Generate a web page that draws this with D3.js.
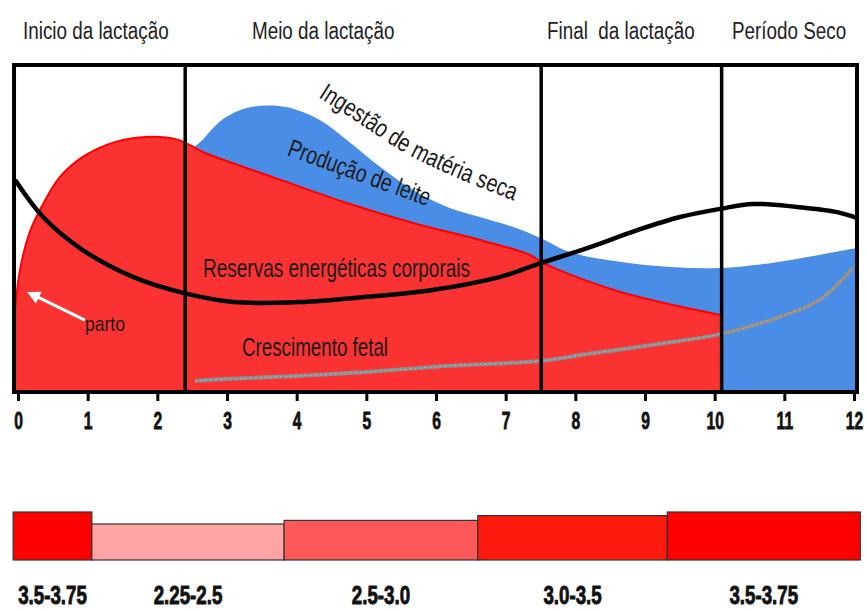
<!DOCTYPE html>
<html>
<head>
<meta charset="utf-8">
<script src="https://cdnjs.cloudflare.com/ajax/libs/d3/7.8.5/d3.min.js"></script>
<style>
  body { margin: 0; background: #fff; }
  text { font-family: "Liberation Sans", Arial, sans-serif; }
</style>
</head>
<body>
<div id="chart-area"></div>
<script>
// phases of the lactation cycle (months)
var phases = ["Inicio da lactação", "Meio da lactação", "Final  da lactação", "Período Seco"];
var phaseBounds = [2.4, 7.51, 10.1];
var months = d3.range(0, 13);

// Reservas energéticas corporais (red)
var redMonth = [-0.06, 0.03, 0.17, 0.36, 0.6, 0.93, 1.4, 1.85, 2.3, 2.69, 3.7, 4.72, 5.67, 6.63, 7.35, 7.54, 8.6, 10.1];
var redValue = [21.0, 37.5, 49.0, 57.5, 65.7, 71.9, 76.5, 78.0, 77.1, 73.1, 65.4, 57.8, 51.7, 46.5, 41.9, 39.4, 30.9, 23.5];

// Produção de leite (blue)
var blueMonth = [2.5, 2.62, 2.78, 2.98, 3.29, 3.57, 3.9, 4.33, 4.72, 5.2, 5.67, 6.16, 6.63, 7.1, 7.5, 7.92, 8.64, 9.36, 10.08, 10.8, 11.5, 12.04];
var blueValue = [74.5, 76.5, 80.3, 84.0, 86.9, 87.6, 86.9, 83.2, 77.1, 68.8, 61.8, 56.6, 53.5, 50.5, 47.1, 42.8, 39.8, 38.2, 37.9, 39.4, 41.9, 44.0];

// Ingestão de matéria seca (black line)
var intakeMonth = [-0.04, 0.36, 0.93, 1.65, 2.37, 3.1, 4.05, 5, 5.95, 6.92, 7.5, 8.17, 8.89, 9.5, 10.08, 10.55, 11.18, 11.76, 12.04];
var intakeValue = [64.8, 53.5, 43.4, 35.2, 30.3, 27.5, 27.5, 29.1, 31.2, 35.2, 39.4, 44.0, 49.5, 53.5, 56.0, 57.5, 56.6, 55.0, 53.2];

// Crescimento fetal (grey line)
var fetalMonth = [2.54, 3, 4, 5, 6.2, 7.5, 8.17, 9.1, 10.08, 10.8, 11.5, 11.98];
var fetalValue = [3.4, 4.0, 4.9, 6.1, 8.0, 9.5, 11.6, 14.4, 17.7, 22.0, 28.1, 37.9];

// body condition score strip
var scoreLabels = ["3.5-3.75", "2.25-2.5", "2.5-3.0", "3.0-3.5", "3.5-3.75"];
var scoreLow = [3.5, 2.25, 2.5, 3.0, 3.5];
var scoreHigh = [3.75, 2.5, 3.0, 3.5, 3.75];
var scoreStart = [-0.07, 1.06, 3.82, 6.6, 9.32];
var scoreEnd = [1.06, 3.82, 6.6, 9.32, 12.09];
var scoreColors = ["#ff0000", "#ffa4a4", "#ff5858", "#ff1a0e", "#ff0000"];

var width = 866, height = 610;

var svg = d3.select("#chart-area").append("svg")
    .attr("width", width)
    .attr("height", height);

var x = d3.scaleLinear().domain([0, 12]).range([18, 854]);
var y = d3.scaleLinear().domain([0, 100]).range([392, 65]);
var yScore = d3.scaleLinear().domain([-1.375, 3.625]).range([560, 512]);

var zip = (a, b) => a.map((d, i) => [d, b[i]]);
var curve = d3.curveCatmullRom.alpha(0.5);

var area = d3.area()
    .x((d) => x(d[0]))
    .y0(y(0))
    .y1((d) => y(d[1]))
    .curve(curve);

var line = d3.line()
    .x((d) => x(d[0]))
    .y((d) => y(d[1]))
    .curve(curve);

// areas
svg.append("path")
    .attr("d", area(zip(blueMonth, blueValue)))
    .attr("fill", "#4a8de6");

svg.append("path")
    .attr("d", area(zip(redMonth, redValue)))
    .attr("fill", "#fb3232");

svg.append("path")
    .attr("d", line(zip(redMonth, redValue)))
    .attr("fill", "none")
    .attr("stroke", "#ff0000")
    .attr("stroke-width", 2);

// fetal growth line
svg.append("path")
    .attr("d", line(zip(fetalMonth, fetalValue)))
    .attr("fill", "none")
    .attr("stroke", "#8e8e8e")
    .attr("stroke-width", 4);

svg.append("path")
    .attr("d", line(zip(fetalMonth, fetalValue)))
    .attr("fill", "none")
    .attr("stroke", "#b4b4b4")
    .attr("stroke-width", 1)
    .attr("stroke-dasharray", "2,3");

// dry matter intake line
svg.append("path")
    .attr("d", line(zip(intakeMonth, intakeValue)))
    .attr("fill", "none")
    .attr("stroke", "#000")
    .attr("stroke-width", 4.5);

// phase dividers + frame
svg.selectAll(".divider").data(phaseBounds).enter().append("line")
    .attr("class", "divider")
    .attr("x1", (d) => x(d)).attr("x2", (d) => x(d))
    .attr("y1", y(100)).attr("y2", y(0))
    .attr("stroke", "#000")
    .attr("stroke-width", 3.5);

svg.append("rect")
    .attr("x", x(-0.057))
    .attr("y", y(100))
    .attr("width", x(12.043) - x(-0.057))
    .attr("height", y(0) - y(100))
    .attr("fill", "none")
    .attr("stroke", "#000")
    .attr("stroke-width", 4);

// axis
var xAxisCall = d3.axisBottom(x)
    .tickValues(months)
    .tickSize(9)
    .tickSizeOuter(0)
    .tickPadding(12);

var xAxisGroup = svg.append("g")
    .attr("transform", "translate(0," + y(0) + ")")
    .call(xAxisCall);

xAxisGroup.select(".domain").remove();
xAxisGroup.selectAll("line").attr("stroke", "#000").attr("stroke-width", 3);
xAxisGroup.selectAll("text")
    .attr("font-family", "Liberation Sans")
    .attr("font-size", 23)
    .attr("font-weight", "bold")
    .attr("fill", "#111")
    .attr("stroke", "#111")
    .attr("stroke-width", 0.8)
    .attr("transform", "scale(0.68,1)");

// phase titles (narrow, like Arial Narrow)
var phaseX = [23, 252, 547, 732];
svg.selectAll(".phase").data(phases).enter().append("text")
    .attr("class", "phase")
    .attr("transform", (d, i) => "translate(" + phaseX[i] + ",39) scale(0.82,1)")
    .attr("font-size", 23)
    .attr("fill", "#222")
    .style("white-space", "pre")
    .text((d) => d);

// labels inside the chart
svg.append("text")
    .attr("transform", "translate(" + x(3.85) + "," + y(72.5) + ") rotate(20)")
    .attr("font-size", 25)
    .attr("fill", "#1a1a1a")
    .attr("textLength", 150)
    .attr("lengthAdjust", "spacingAndGlyphs")
    .text("Produção de leite");

var guideMonth = [4.31, 4.91, 5.48, 6.2, 7.28];
var guideValue = [90.2, 82.0, 74.0, 66.4, 57.2];
svg.append("path")
    .attr("id", "intake-guide")
    .attr("d", line(zip(guideMonth, guideValue)))
    .attr("fill", "none");

svg.append("text")
    .attr("font-size", 25)
    .attr("fill", "#1a1a1a")
    .attr("textLength", 222)
    .attr("lengthAdjust", "spacingAndGlyphs")
    .append("textPath")
    .attr("href", "#intake-guide")
    .text("Ingestão de matéria seca");

svg.append("text")
    .attr("x", 203)
    .attr("y", 277)
    .attr("font-size", 26)
    .attr("fill", "#1a1a1a")
    .attr("textLength", 267)
    .attr("lengthAdjust", "spacingAndGlyphs")
    .text("Reservas energéticas corporais");

svg.append("text")
    .attr("x", 242)
    .attr("y", 356)
    .attr("font-size", 26)
    .attr("fill", "#1a1a1a")
    .attr("textLength", 146)
    .attr("lengthAdjust", "spacingAndGlyphs")
    .text("Crescimento fetal");

svg.append("text")
    .attr("x", 85)
    .attr("y", 331)
    .attr("font-size", 21)
    .attr("fill", "#1a1a1a")
    .attr("textLength", 40)
    .attr("lengthAdjust", "spacingAndGlyphs")
    .text("parto");

// parto arrow
var tail = [x(0.96), y(22)], tip = [x(0.13), y(30.6)];
var ang = Math.atan2(tip[1] - tail[1], tip[0] - tail[0]);
svg.append("line")
    .attr("x1", tail[0]).attr("y1", tail[1])
    .attr("x2", tip[0] - 8 * Math.cos(ang)).attr("y2", tip[1] - 8 * Math.sin(ang))
    .attr("stroke", "#fff")
    .attr("stroke-width", 3);
svg.append("path")
    .attr("d", "M0,0L-13,-6.5L-13,6.5Z")
    .attr("transform", "translate(" + tip[0] + "," + tip[1] + ") rotate(" + (ang * 180 / Math.PI) + ")")
    .attr("fill", "#fff");

// body condition score strip
var bars = svg.selectAll(".score").data(scoreLabels).enter().append("g")
    .attr("class", "score");

bars.append("rect")
    .attr("x", (d, i) => x(scoreStart[i]))
    .attr("y", (d, i) => yScore((scoreLow[i] + scoreHigh[i]) / 2))
    .attr("width", (d, i) => x(scoreEnd[i]) - x(scoreStart[i]))
    .attr("height", (d, i) => yScore(-1.375) - yScore((scoreLow[i] + scoreHigh[i]) / 2))
    .attr("fill", (d, i) => scoreColors[i])
    .attr("stroke", "#333")
    .attr("stroke-width", 1.2);

bars.append("text")
    .attr("transform", (d, i) => "translate(" + x((scoreStart[i] + scoreEnd[i]) / 2) + ",604) scale(0.72,1)")
    .attr("text-anchor", "middle")
    .attr("font-size", 26)
    .attr("font-weight", "bold")
    .attr("fill", "#111")
    .attr("stroke", "#111")
    .attr("stroke-width", 0.9)
    .text((d) => d);
</script>
</body>
</html>
